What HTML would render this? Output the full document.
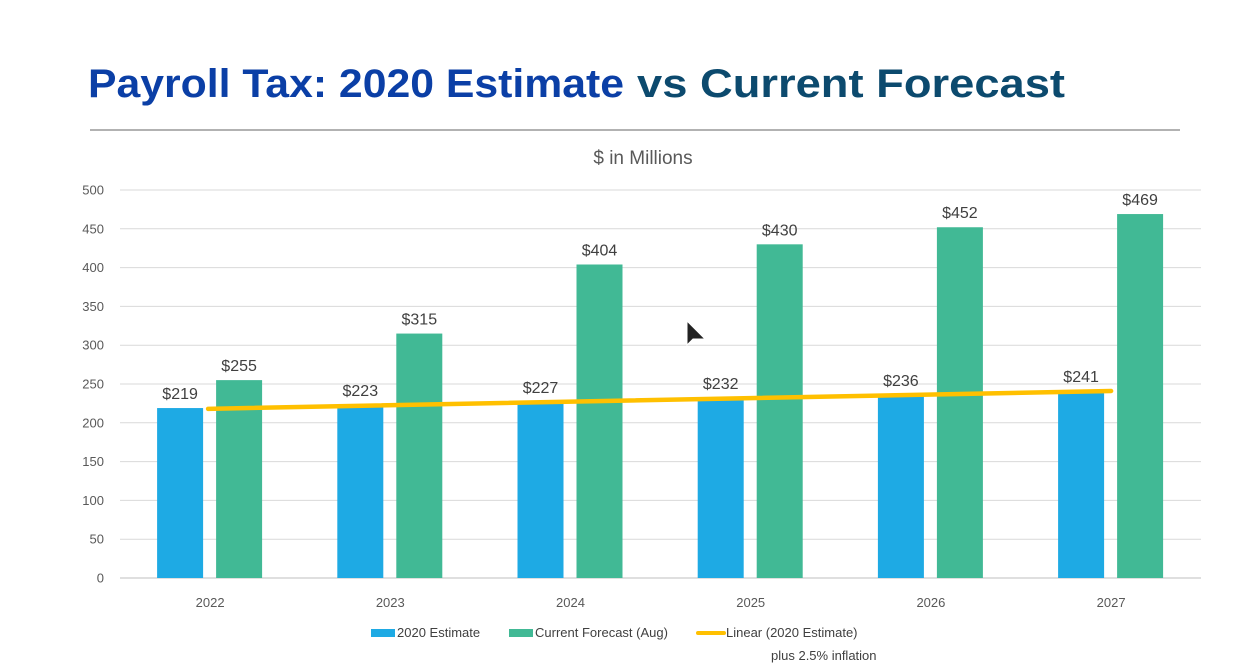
<!DOCTYPE html>
<html><head><meta charset="utf-8"><style>
html,body{margin:0;padding:0;background:#fff;}
svg{display:block;font-family:"Liberation Sans",sans-serif;}
</style></head><body>
<svg id="chart" width="1251" height="668" viewBox="0 0 1251 668">
<text x="88" y="97" font-size="40" font-weight="bold" fill="#0b3fa6" textLength="536" lengthAdjust="spacingAndGlyphs">Payroll Tax: 2020 Estimate</text>
<text x="637" y="97" font-size="40" font-weight="bold" fill="#0c4a6e" textLength="428" lengthAdjust="spacingAndGlyphs">vs Current Forecast</text>
<line x1="90" y1="130" x2="1180" y2="130" stroke="#999" stroke-width="1.5"/>
<text x="643" y="164" font-size="19" fill="#595959" text-anchor="middle">$ in Millions</text>
<g id="grid"></g><g id="bars"></g><g id="trend"></g><g id="labels"></g>
<polygon points="687,321 687,345 693,339 705,339" fill="#222" stroke="#fff" stroke-width="1"/>
<g>
<rect x="371" y="629" width="24" height="8" fill="#1eaae4"/>
<text x="397" y="637" font-size="13" fill="#404040">2020 Estimate</text>
<rect x="509" y="629" width="24" height="8" fill="#41b995"/>
<text x="535" y="637" font-size="13" fill="#404040">Current Forecast (Aug)</text>
<line x1="698" y1="633" x2="724" y2="633" stroke="#ffc000" stroke-width="4" stroke-linecap="round"/>
<text x="726" y="637" font-size="13" fill="#404040">Linear (2020 Estimate)</text>
<text x="771" y="660" font-size="13" fill="#404040">plus 2.5% inflation</text>
</g>
</svg>
<script>
const categories=["2022","2023","2024","2025","2026","2027"];
const estimate=[219,223,227,232,236,241];
const forecast=[255,315,404,430,452,469];
const trendStart=218;
const trendEnd=241;
const yTicks=[0,50,100,150,200,250,300,350,400,450,500];
const NS="http://www.w3.org/2000/svg";
const y0=578,yTop=190,yMax=500,x0=120,cw=180.2;
function y(v){return y0-(v/yMax)*(y0-yTop);}
function xc(i){return x0+cw*(i+0.5);}
function mk(tag,attrs,parent,text){const e=document.createElementNS(NS,tag);for(const k in attrs)e.setAttribute(k,attrs[k]);if(text!==undefined)e.textContent=text;parent.appendChild(e);return e;}
const grid=document.getElementById('grid'),bars=document.getElementById('bars'),labels=document.getElementById('labels'),trend=document.getElementById('trend');
yTicks.forEach(t=>{
  const l=mk('line',{x1:x0,x2:1201,y1:y(t),y2:y(t),stroke:t===0?'#bfbfbf':'#d9d9d9','stroke-width':1},grid);
  
  
  const tx=mk('text',{x:104,y:y(t)+4.5,'font-size':13,fill:'#595959','text-anchor':'end'},grid,String(t));
  
  
});
categories.forEach((c,i)=>{
  const cx=xc(i);
  const b1=mk('rect',{x:cx-53,y:y(estimate[i]),width:46,height:y0-y(estimate[i]),fill:'#1eaae4'},bars);
  
  
  const b2=mk('rect',{x:cx+6,y:y(forecast[i]),width:46,height:y0-y(forecast[i]),fill:'#41b995'},bars);
  
  
  const l1=mk('text',{x:cx-30,y:y(estimate[i])-9,'font-size':16,fill:'#404040','text-anchor':'middle'},labels,'$'+estimate[i]);
  
  
  const l2=mk('text',{x:cx+29,y:y(forecast[i])-9,'font-size':16,fill:'#404040','text-anchor':'middle'},labels,'$'+forecast[i]);
  
  
  const xl=mk('text',{x:cx,y:607,'font-size':13,fill:'#595959','text-anchor':'middle'},labels,c);
  
  
});
const tl=mk('line',{x1:xc(0)-2,y1:y(trendStart),x2:xc(categories.length-1),y2:y(trendEnd),stroke:'#ffc000','stroke-width':4.5,'stroke-linecap':'round'},trend);


</script>
</body></html>
